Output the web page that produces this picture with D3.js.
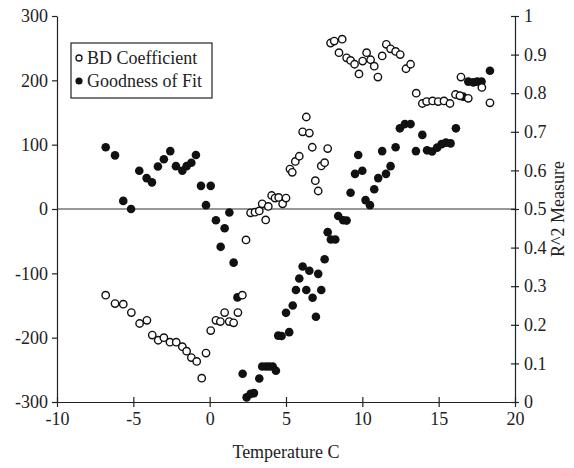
<!DOCTYPE html>
<html>
<head>
<meta charset="utf-8">
<script src="https://cdn.jsdelivr.net/npm/d3@7"></script>
<style>
  body { margin: 0; background: #fff; }
  svg text { font-family: "Liberation Serif", "Times New Roman", serif; fill: #222; }
  .axis path, .axis line { stroke: #222; stroke-width: 1.2; }
  .axis text { font-size: 18px; }
</style>
</head>
<body>
<div id="chart"></div>
<script>
// BD Coefficient (open circles, left axis)
const bdTemp = [-6.81, -6.2, -5.66, -5.13, -4.59, -4.11, -3.76, -3.37, -3.0, -2.6, -2.19, -1.79, -1.51, -1.2, -0.85, -0.52, -0.24, 0.07, 0.41, 0.7, 0.98, 1.28, 1.57, 1.85, 2.14, 2.38, 2.68, 2.97, 3.25, 3.44, 3.67, 3.84, 4.06, 4.28, 4.52, 4.78, 5.0, 5.26, 5.41, 5.61, 5.87, 6.09, 6.33, 6.53, 6.72, 6.92, 7.11, 7.31, 7.53, 7.73, 7.92, 8.16, 8.47, 8.68, 8.97, 9.23, 9.49, 9.78, 10.02, 10.28, 10.54, 10.78, 11.02, 11.3, 11.57, 11.85, 12.18, 12.48, 12.86, 13.16, 13.53, 13.93, 14.21, 14.6, 14.97, 15.35, 15.74, 16.1, 16.39, 16.46, 16.94, 17.83, 18.36];
const bdValue = [-134, -147, -148, -161, -178, -173, -196, -204, -200, -207, -207, -214, -221, -231, -237, -263, -224, -189, -173, -175, -161, -175, -177, -161, -134, -48, -6, -5, -3, 8, -17, 4, 21, 17, 18, 8, 17, 62, 57, 74, 82, 120, 143, 118, 96, 44, 28, 67, 72, 94, 258, 261, 243, 264, 235, 231, 225, 210, 230, 243, 232, 222, 205, 238, 256, 249, 245, 240, 218, 225, 180, 164, 167, 168, 167, 168, 164, 178, 176, 205, 172, 189, 165];

// Goodness of Fit (filled circles, right axis)
const fitTemp = [-6.81, -6.2, -5.66, -5.15, -4.61, -4.13, -3.78, -3.39, -3.0, -2.58, -2.21, -1.79, -1.51, -1.2, -0.9, -0.57, -0.24, 0.07, 0.41, 0.72, 0.98, 1.29, 1.57, 1.82, 2.16, 2.42, 2.68, 2.9, 3.25, 3.44, 3.69, 3.9, 4.13, 4.34, 4.49, 4.71, 5.0, 5.21, 5.44, 5.65, 5.87, 6.09, 6.33, 6.53, 6.74, 6.96, 7.11, 7.31, 7.53, 7.73, 7.94, 8.23, 8.42, 8.75, 8.97, 9.23, 9.52, 9.73, 10.0, 10.21, 10.5, 10.78, 11.04, 11.3, 11.55, 11.85, 12.18, 12.46, 12.79, 13.16, 13.51, 13.93, 14.24, 14.57, 14.9, 15.19, 15.48, 15.78, 16.13, 16.61, 16.94, 17.27, 17.53, 17.81, 18.36];
const fitValue = [0.66, 0.639, 0.521, 0.5, 0.599, 0.58, 0.569, 0.61, 0.629, 0.65, 0.611, 0.599, 0.611, 0.62, 0.64, 0.56, 0.51, 0.56, 0.471, 0.402, 0.45, 0.491, 0.361, 0.271, 0.073, 0.012, 0.021, 0.023, 0.061, 0.092, 0.092, 0.092, 0.092, 0.081, 0.172, 0.171, 0.231, 0.181, 0.25, 0.29, 0.32, 0.351, 0.29, 0.34, 0.27, 0.221, 0.332, 0.29, 0.37, 0.44, 0.421, 0.421, 0.482, 0.471, 0.47, 0.542, 0.591, 0.64, 0.599, 0.523, 0.51, 0.551, 0.58, 0.65, 0.591, 0.611, 0.66, 0.709, 0.72, 0.72, 0.65, 0.692, 0.652, 0.649, 0.659, 0.668, 0.672, 0.67, 0.709, 0.791, 0.83, 0.828, 0.83, 0.83, 0.858];

const xTicks = [-10, -5, 0, 5, 10, 15, 20];
const leftTicks = [-300, -200, -100, 0, 100, 200, 300];
const rightTicks = [0, 0.1, 0.2, 0.3, 0.4, 0.5, 0.6, 0.7, 0.8, 0.9, 1];
const seriesNames = ["BD Coefficient", "Goodness of Fit"];

const W = 574, H = 468;
const margin = { top: 16, right: 59, bottom: 66, left: 57 };
const width = W - margin.left - margin.right;
const height = H - margin.top - margin.bottom;

// plain hyphen minus, like the original
const fmtInt = d => String(d);

const svg = d3.select("#chart").append("svg")
  .attr("width", W)
  .attr("height", H)
  .append("g")
  .attr("transform", `translate(${margin.left},${margin.top})`);

const x = d3.scaleLinear().domain([-10, 20]).range([0, width]);
const yL = d3.scaleLinear().domain([-300, 300]).range([height, 0]);
const yR = d3.scaleLinear().domain([0, 1]).range([height, 0]);

// zero line
svg.append("line")
  .attr("x1", 0).attr("x2", width)
  .attr("y1", yL(0)).attr("y2", yL(0))
  .attr("stroke", "#333").attr("stroke-width", 1.2);

// axes
const gx = svg.append("g").attr("class", "axis")
  .attr("transform", `translate(0,${height})`)
  .call(d3.axisBottom(x).tickValues(xTicks).tickFormat(fmtInt)
    .tickSize(5).tickSizeOuter(0).tickPadding(5));
gx.selectAll(".tick line").attr("y1", -5);

svg.append("g").attr("class", "axis")
  .call(d3.axisLeft(yL).tickValues(leftTicks).tickFormat(fmtInt)
    .tickSize(5).tickSizeOuter(0).tickPadding(4));

const gr = svg.append("g").attr("class", "axis")
  .attr("transform", `translate(${width},0)`)
  .call(d3.axisRight(yR).tickValues(rightTicks).tickSize(4).tickSizeOuter(0).tickPadding(5)
    .tickFormat(d => d === 0 || d === 1 ? String(d) : d3.format(".1f")(d)));
gr.selectAll(".tick line").attr("x1", -4);

svg.selectAll(".axis").attr("font-family", null).attr("font-size", null);

// axis labels
svg.append("text")
  .attr("x", width / 2)
  .attr("y", height + 56)
  .attr("text-anchor", "middle")
  .style("font-size", "18px")
  .text("Temperature C");

svg.append("text")
  .attr("transform", "rotate(-90)")
  .attr("x", -height / 2)
  .attr("y", width + 49)
  .attr("text-anchor", "middle")
  .style("font-size", "18px")
  .text("R^2 Measure");

// points
const bdData = bdTemp.map((t, i) => ({ t, v: bdValue[i] }));
const fitData = fitTemp.map((t, i) => ({ t, v: fitValue[i] }));

svg.selectAll("circle.fit")
  .data(fitData)
  .enter().append("circle")
  .attr("class", "fit")
  .attr("cx", d => x(d.t))
  .attr("cy", d => yR(d.v))
  .attr("r", 4.3)
  .attr("fill", "#111");

svg.selectAll("circle.bd")
  .data(bdData)
  .enter().append("circle")
  .attr("class", "bd")
  .attr("cx", d => x(d.t))
  .attr("cy", d => yL(d.v))
  .attr("r", 3.7)
  .attr("fill", "#fff")
  .attr("stroke", "#111")
  .attr("stroke-width", 1.4);

// legend
const lg = svg.append("g").attr("transform", "translate(14,27)");
lg.append("rect")
  .attr("width", 141).attr("height", 55)
  .attr("fill", "#fff").attr("stroke", "#222").attr("stroke-width", 1.2);
seriesNames.forEach((name, i) => {
  const cy = 15 + i * 23;
  lg.append("circle")
    .attr("cx", 8).attr("cy", cy)
    .attr("r", i === 0 ? 3 : 3.6)
    .attr("fill", i === 0 ? "#fff" : "#111")
    .attr("stroke", "#111").attr("stroke-width", i === 0 ? 1.3 : 0);
  lg.append("text")
    .attr("x", 16).attr("y", cy + 6)
    .style("font-size", "18px")
    .text(name);
});
</script>
</body>
</html>
